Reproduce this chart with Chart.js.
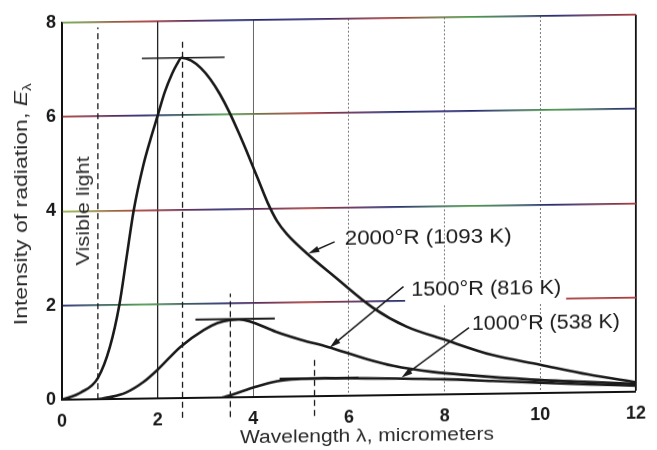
<!DOCTYPE html>
<html><head><meta charset="utf-8">
<script src="https://cdn.jsdelivr.net/npm/chart.js@4/dist/chart.umd.min.js"></script>
<style>
html,body{margin:0;padding:0;background:#fff;overflow:hidden}
#wrap{width:657px;height:450px;transform:skewY(-0.8deg);transform-origin:50% 50%}
canvas{display:block}
</style></head>
<body><div id="wrap"><canvas id="c" width="657" height="450"></canvas></div>
<script>
// ---- data ----
const xTicks = [0, 2, 4, 6, 8, 10, 12];
const yTicks = [0, 2, 4, 6, 8];

const wl2000 = [0, 0.4, 0.75, 1.0, 1.2, 1.35, 1.5, 1.7, 1.85, 2.0, 2.15, 2.3, 2.4, 2.5, 2.7, 2.9, 3.1, 3.3, 3.5, 3.7, 3.9, 4.1, 4.3, 4.5, 4.7, 5.1, 5.7, 6.5, 7.2, 8.0, 9.0, 10.0, 11.0, 12.0];
const e2000  = [0, 0.15, 0.45, 1.1, 2.0, 3.0, 4.0, 4.95, 5.5, 6.0, 6.5, 6.88, 7.08, 7.22, 7.16, 7.0, 6.76, 6.44, 6.05, 5.6, 5.12, 4.62, 4.12, 3.72, 3.45, 3.05, 2.53, 1.86, 1.45, 1.16, 0.82, 0.6, 0.38, 0.2];

const wl1500 = [0.75, 1.0, 1.33, 1.7, 2.0, 2.48, 2.97, 3.25, 3.5, 3.7, 3.92, 4.47, 5.0, 5.56, 6.38, 6.93, 7.75, 8.5, 9.8, 11.0, 12.0];
const e1500  = [0, 0.04, 0.13, 0.35, 0.61, 1.09, 1.44, 1.58, 1.64, 1.65, 1.61, 1.38, 1.2, 1.04, 0.77, 0.62, 0.48, 0.4, 0.29, 0.22, 0.17];

const wl1000 = [3.35, 3.6, 4.0, 4.5, 5.0, 5.5, 6.0, 7.0, 8.0, 9.0, 10.0, 11.0, 12.0];
const e1000  = [0, 0.07, 0.2, 0.33, 0.37, 0.38, 0.37, 0.35, 0.32, 0.27, 0.22, 0.17, 0.13];

// vertical marker lines: [x, yFrom, yTo]
const visibleLightLine = [0.75, 0, 7.89];
const peakDashLines = [[2.52, -0.42, 7.56], [3.52, -0.42, 2.2], [5.28, -0.42, 0.85]];
// horizontal peak lines: [xFrom, xTo, y]
const peakFlatLines = [[1.67, 3.4, 7.22], [2.79, 4.45, 1.66], [4.55, 6.2, 0.38]];

const curveLabels = ['2000°R (1093 K)', '1500°R (816 K)', '1000°R (538 K)'];
const labelX = [5.91, 7.30, 8.57];
const labelY = [3.33, 2.21, 1.47];
// arrows: [fromX, fromY, toX, toY]
const arrows = [[5.70, 3.27, 5.15, 3.03], [7.14, 2.30, 5.60, 1.03], [8.51, 1.41, 7.10, 0.37]];

const xTitle = 'Wavelength λ, micrometers';
const yTitleParts = ['Intensity of radiation, ', 'E', 'λ'];
const visibleLightText = 'Visible light';

// ---- styles ----
const FONT = '"Liberation Sans", Arial, sans-serif';
const INK = '#1a1a1a';
const gridPalettes = {
  2: ['#262670', '#4a9a4a', '#262670', '#a83838', '#262670', '#4a9a4a', '#a83838', '#a83838'],
  4: ['#8cb848', '#a83838', '#262670', '#a83838', '#262670', '#4a9a4a', '#262670', '#a83838'],
  6: ['#a83838', '#262670', '#4a9a4a', '#a83838', '#262670', '#262670', '#4a9a4a', '#262670'],
  8: ['#6aa848', '#a83838', '#262670', '#262670', '#a83838', '#4a9a4a', '#262670', '#a83838']
};
const labelWidths = [167, 150, 148];

const pts = (xs, ys) => xs.map((x, i) => ({x, y: ys[i]}));
const curve = (xs, ys) => ({data: pts(xs, ys), borderColor: INK, borderWidth: 2.6, pointRadius: 0,
  cubicInterpolationMode: 'monotone', fill: false});
const seg = (data, opts) => Object.assign({data, borderColor: INK, borderWidth: 1.4, pointRadius: 0, fill: false, tension: 0}, opts);

const datasets = [
  curve(wl2000, e2000),
  curve(wl1500, e1500),
  curve(wl1000, e1000),
  seg([{x: visibleLightLine[0], y: visibleLightLine[1]}, {x: visibleLightLine[0], y: visibleLightLine[2]}], {borderDash: [6, 4], borderWidth: 1.3}),
  ...peakDashLines.map(l => seg([{x: l[0], y: l[1]}, {x: l[0], y: l[2]}], {borderDash: [6, 4], borderWidth: 1.3, clip: false})),
  ...peakFlatLines.map((l, i) => seg([{x: l[0], y: l[2]}, {x: l[1], y: l[2]}], {borderWidth: i === 0 ? 1.6 : 2.2}))
];

function fitText(ctx, text, x, y, w, font, align, rot) {
  ctx.save();
  ctx.font = font;
  const m = ctx.measureText(text).width;
  ctx.translate(x, y);
  if (rot) ctx.rotate(rot);
  ctx.scale(w / m, 1);
  ctx.textAlign = align;
  ctx.textBaseline = 'middle';
  ctx.fillText(text, 0, 0);
  ctx.restore();
}

function arrow(ctx, x1, y1, x2, y2) {
  const a = Math.atan2(y2 - y1, x2 - x1);
  const L = 11, W = 3.2;
  ctx.save();
  ctx.strokeStyle = INK; ctx.fillStyle = INK; ctx.lineWidth = 1.5;
  ctx.beginPath(); ctx.moveTo(x1, y1);
  ctx.lineTo(x2 - Math.cos(a) * L * 0.8, y2 - Math.sin(a) * L * 0.8); ctx.stroke();
  ctx.beginPath();
  ctx.moveTo(x2, y2);
  ctx.lineTo(x2 - Math.cos(a) * L - Math.sin(a) * W, y2 - Math.sin(a) * L + Math.cos(a) * W);
  ctx.lineTo(x2 - Math.cos(a) * L + Math.sin(a) * W, y2 - Math.sin(a) * L - Math.cos(a) * W);
  ctx.closePath(); ctx.fill();
  ctx.restore();
}

const annotate = {
  id: 'annotate',
  afterDatasetsDraw(chart) {
    const {ctx, scales: {x, y}} = chart;
    ctx.save();
    ctx.fillStyle = INK;
    curveLabels.forEach((t, i) => {
      const px = x.getPixelForValue(labelX[i]);
      const py = y.getPixelForValue(labelY[i]);
      if (i === 1) { ctx.fillStyle = '#fff'; ctx.fillRect(px - 6, py - 11, labelWidths[i] + 11, 25); ctx.fillStyle = INK; }
      fitText(ctx, t, px, py, labelWidths[i], '20px ' + FONT, 'left');
    });
    arrows.forEach(a => arrow(ctx, x.getPixelForValue(a[0]), y.getPixelForValue(a[1]), x.getPixelForValue(a[2]), y.getPixelForValue(a[3])));
    ctx.fillStyle = '#2a2a2a';
    fitText(ctx, visibleLightText, x.getPixelForValue(0.47), y.getPixelForValue(4.0), 109, '18px ' + FONT, 'center', -Math.PI / 2);
    fitText(ctx, xTitle, 367, 437.5, 254, '18px ' + FONT, 'center');
    const f1 = '18px ' + FONT, f2 = 'italic 18px ' + FONT, f3 = '12px ' + FONT;
    ctx.font = f1; const w1 = ctx.measureText(yTitleParts[0]).width;
    ctx.font = f2; const w2 = ctx.measureText(yTitleParts[1]).width;
    ctx.font = f3; const w3 = ctx.measureText(yTitleParts[2]).width;
    const tot = w1 + w2 + w3, target = 242, s = target / tot;
    ctx.save();
    ctx.translate(22, 200); ctx.rotate(-Math.PI / 2); ctx.scale(s, 1);
    ctx.textBaseline = 'middle'; ctx.textAlign = 'left';
    let cx = -tot / 2;
    ctx.font = f1; ctx.fillText(yTitleParts[0], cx, 0); cx += w1;
    ctx.font = f2; ctx.fillText(yTitleParts[1], cx, 0); cx += w2;
    ctx.font = f3; ctx.fillText(yTitleParts[2], cx, 6);
    ctx.restore();
    ctx.restore();
  }
};

new Chart(document.getElementById('c'), {
  type: 'line',
  data: {datasets},
  options: {
    responsive: false, animation: false, devicePixelRatio: 1,
    layout: {padding: {left: 0, right: 10, top: 19, bottom: 0}},
    plugins: {legend: {display: false}, tooltip: {enabled: false}},
    scales: {
      x: {
        type: 'linear', min: 0, max: 12,
        afterBuildTicks: s => { s.ticks = xTicks.map(v => ({value: v})); },
        afterFit: s => { s.height = 54; },
        ticks: {padding: 11, color: INK, font: {family: FONT, size: 18, weight: 'bold'}},
        border: {display: true, color: '#111', width: 2, dash: c => (c.tick && [6, 8, 10].includes(c.tick.value)) ? [2, 2] : []},
        grid: {
          drawTicks: false,
          color: c => {
            const v = c.tick ? c.tick.value : null;
            if (v === 0 || v === 12) return '#111';
            if (v === 2) return '#222';
            if (v === 4) return '#666';
            return '#7a7a7a';
          },
          lineWidth: c => { const v = c.tick ? c.tick.value : null; return v === 12 ? 1.8 : (v === 2 ? 1.3 : 1); }
        }
      },
      y: {
        type: 'linear', min: 0, max: 8,
        afterBuildTicks: s => { s.ticks = yTicks.map(v => ({value: v})); },
        afterFit: s => { s.width = 62; },
        ticks: {padding: 6, color: INK, font: {family: FONT, size: 18, weight: 'bold'}},
        border: {display: true, color: '#111', width: 1.5},
        grid: {
          drawTicks: false,
          lineWidth: 1.8,
          color: c => {
            const v = c.tick ? c.tick.value : null;
            if (v === 0 || !gridPalettes[v]) return '#111';
            const ca = c.chart.chartArea;
            if (!ca) return '#262670';
            const g = c.chart.ctx.createLinearGradient(ca.left, 0, ca.right, 0);
            const p = gridPalettes[v];
            p.forEach((col, i) => g.addColorStop(i / (p.length - 1), col));
            return g;
          }
        }
      }
    }
  },
  plugins: [annotate]
});
</script>
</body></html>
